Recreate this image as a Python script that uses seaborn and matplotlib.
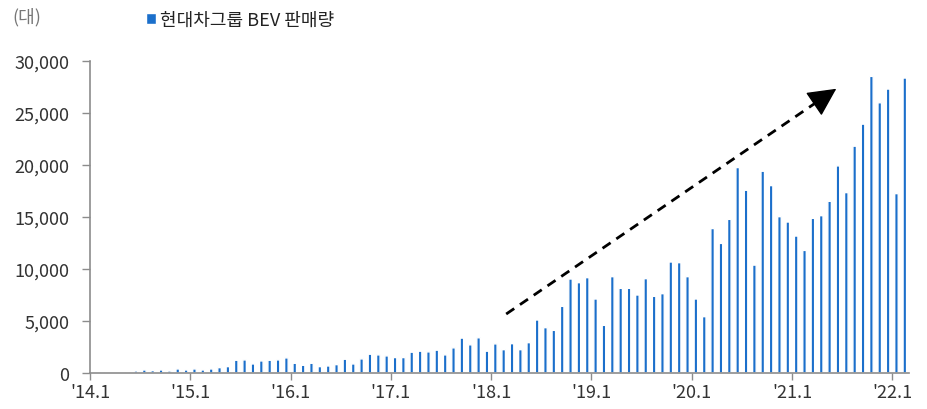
import matplotlib
matplotlib.use("Agg")
import matplotlib.pyplot as plt
import seaborn as sns
import pandas as pd

# ---- data ----
years = ["14", "15", "16", "17", "18", "19", "20", "21", "22"]
months = [f"{y}.{m}" for y in years for m in range(1, 13)][:98]
sales_2014 = [0, 40, 40, 40, 40, 190, 290, 225, 290, 190, 387, 290]
sales_2015 = [387, 290, 387, 516, 613, 1226, 1258, 871, 1161, 1226, 1258, 1452]
sales_2016 = [935, 742, 935, 613, 677, 806, 1323, 871, 1355, 1806, 1742, 1645]
sales_2017 = [1484, 1484, 2000, 2097, 2032, 2194, 1742, 2419, 3355, 2710, 3387, 2097]
sales_2018 = [2800, 2244, 2820, 2244, 2917, 5096, 4359, 4103, 6410, 9038, 8686, 9167]
sales_2019 = [7115, 4583, 9263, 8141, 8141, 7500, 9071, 7372, 7628, 10673, 10609, 9263]
sales_2020 = [7115, 5417, 13890, 12462, 14775, 19754, 17570, 10375, 19400, 18019, 15032, 14518]
sales_2021 = [13169, 11788, 14871, 15128, 16510, 19914, 17345, 21809, 23929, 28522, 25985, 27302]
sales_2022 = [17248, 28362]
sales = (sales_2014 + sales_2015 + sales_2016 + sales_2017 + sales_2018
         + sales_2019 + sales_2020 + sales_2021 + sales_2022)
tick_labels = ["'14.1", "'15.1", "'16.1", "'17.1", "'18.1", "'19.1", "'20.1", "'21.1", "'22.1"]
yticks = [0, 5000, 10000, 15000, 20000, 25000, 30000]
series_name = "현대차그룹 BEV 판매량"
unit_label = "(대)"
arrow_start = (49.3, 5670)
arrow_end = (88.8, 27330)

df = pd.DataFrame({"month": months, "sales": sales})

sns.set_theme(style="white")
plt.rcParams["font.family"] = ["Noto Sans CJK KR", "DejaVu Sans"]

BLUE = "#1B6FCB"
GREY_AX = "#8c8c8c"
TXT = "#333333"

fig = plt.figure(figsize=(9.27, 4.10), dpi=100)
ax = fig.add_axes([90 / 927, 36 / 410, 819 / 927, 312 / 410])

sns.barplot(data=df, x="month", y="sales", color=BLUE, saturation=1,
            width=0.42, ax=ax, label=series_name)
for p in ax.patches:
    p.set_snap(False)

ax.set_xlim(-0.5, len(months) - 0.5)
ax.set_ylim(0, 30000)
ax.set_xlabel("")
ax.set_ylabel("")

ax.set_xticks([i * 12 - 0.5 for i in range(len(tick_labels))])
ax.set_xticklabels(tick_labels, fontsize=13, color=TXT)
ax.set_yticks(yticks)
ax.set_yticklabels([f"{v:,}" for v in yticks], fontsize=13, color=TXT)

ax.tick_params(axis="y", direction="out", length=6, width=1, color=GREY_AX, pad=9, left=True)
ax.tick_params(axis="x", direction="out", length=5, width=1, color=GREY_AX, pad=2, bottom=True)

for s in ["top", "right"]:
    ax.spines[s].set_visible(False)
for s in ["left", "bottom"]:
    ax.spines[s].set_color(GREY_AX)
    ax.spines[s].set_linewidth(1.2)

# trend arrow: dashed shaft + solid head
frac = 0.955
shaft_end = (arrow_start[0] + (arrow_end[0] - arrow_start[0]) * frac,
             arrow_start[1] + (arrow_end[1] - arrow_start[1]) * frac)
ax.plot([arrow_start[0], shaft_end[0]], [arrow_start[1], shaft_end[1]],
        color="black", lw=2, linestyle=(0, (3.5, 2.5)), solid_capstyle="butt")
ax.annotate("", xy=arrow_end, xytext=shaft_end,
            arrowprops=dict(arrowstyle="-|>,head_length=1.0,head_width=0.5",
                            lw=1, color="black", mutation_scale=18,
                            shrinkA=0, shrinkB=0))

# legend
leg = ax.legend(loc="upper left", bbox_to_anchor=(134 / 927, 1.0), bbox_transform=fig.transFigure,
                frameon=False, fontsize=13, handlelength=0.55, handleheight=0.55,
                handletextpad=0.25, borderaxespad=0.25)
for t in leg.get_texts():
    t.set_color("#222222")

fig.text(12 / 927, 1 - 17 / 410, unit_label, fontsize=13, color="#777777", va="center", ha="left")

fig.savefig("out.png", dpi=100)
